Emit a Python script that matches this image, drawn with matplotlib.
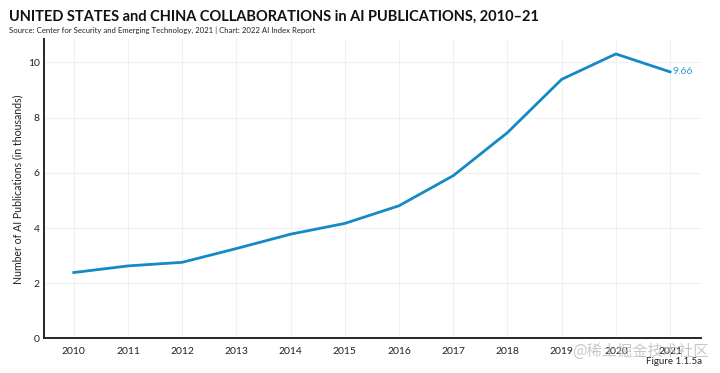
import matplotlib
matplotlib.use('Agg')
import matplotlib.pyplot as plt

years = [2010, 2011, 2012, 2013, 2014, 2015, 2016, 2017, 2018, 2019, 2020, 2021]
pubs = [2.39, 2.63, 2.76, 3.26, 3.78, 4.17, 4.81, 5.90, 7.46, 9.39, 10.31, 9.66]
y_ticks = [0, 2, 4, 6, 8, 10]

line_color = '#1489c6'

plt.rcParams['font.family'] = ['Lato', 'DejaVu Sans']

fig = plt.figure(figsize=(7.2, 3.73), dpi=100)
ax = fig.add_axes([0.0611, 0.0925, 0.9125, 0.8021])

ax.plot(years, pubs, color=line_color, linewidth=2.0, solid_joinstyle='miter')
ax.text(years[-1] + 0.05, pubs[-1], '{:.2f}'.format(pubs[-1]), color='#2a9fd6',
        fontsize=7.5, va='center', ha='left')

ax.set_xlim(years[0] - 0.55, years[-1] + 0.57)
ax.set_ylim(0, 10.84)
ax.set_xticks(years)
ax.set_yticks(y_ticks)
ax.tick_params(axis='y', length=0, labelsize=7.5, colors='#222222', pad=3)
ax.tick_params(axis='x', length=0, labelsize=7.5, colors='#222222', pad=6)
ax.grid(True, color='#f0f0f0', linewidth=0.8)
ax.set_axisbelow(True)

for s in ['top', 'right']:
    ax.spines[s].set_visible(False)
for s in ['left', 'bottom']:
    ax.spines[s].set_color('#2b2224')
    ax.spines[s].set_linewidth(1.4)

ax.set_ylabel('Number of AI Publications (in thousands)', fontsize=7.6, color='#222222', labelpad=3)

fig.text(0.0125, 0.955, 'UNITED STATES and CHINA COLLABORATIONS in AI PUBLICATIONS, 2010–21',
         fontsize=10.5, fontweight='bold', color='#111111', va='center')
fig.text(0.0125, 0.918, 'Source: Center for Security and Emerging Technology, 2021 | Chart: 2022 AI Index Report',
         fontsize=5.6, color='#222222', va='center')
fig.text(0.975, 0.03, 'Figure 1.1.5a', fontsize=7, color='#222222', ha='right', va='center')
fig.text(0.795, 0.058, '@稀土掘金技术社区', fontsize=11, color='#bbbbbb', alpha=0.8,
         ha='left', va='center', family=['Noto Sans CJK SC', 'DejaVu Sans'])

fig.savefig('out.png', dpi=100)
